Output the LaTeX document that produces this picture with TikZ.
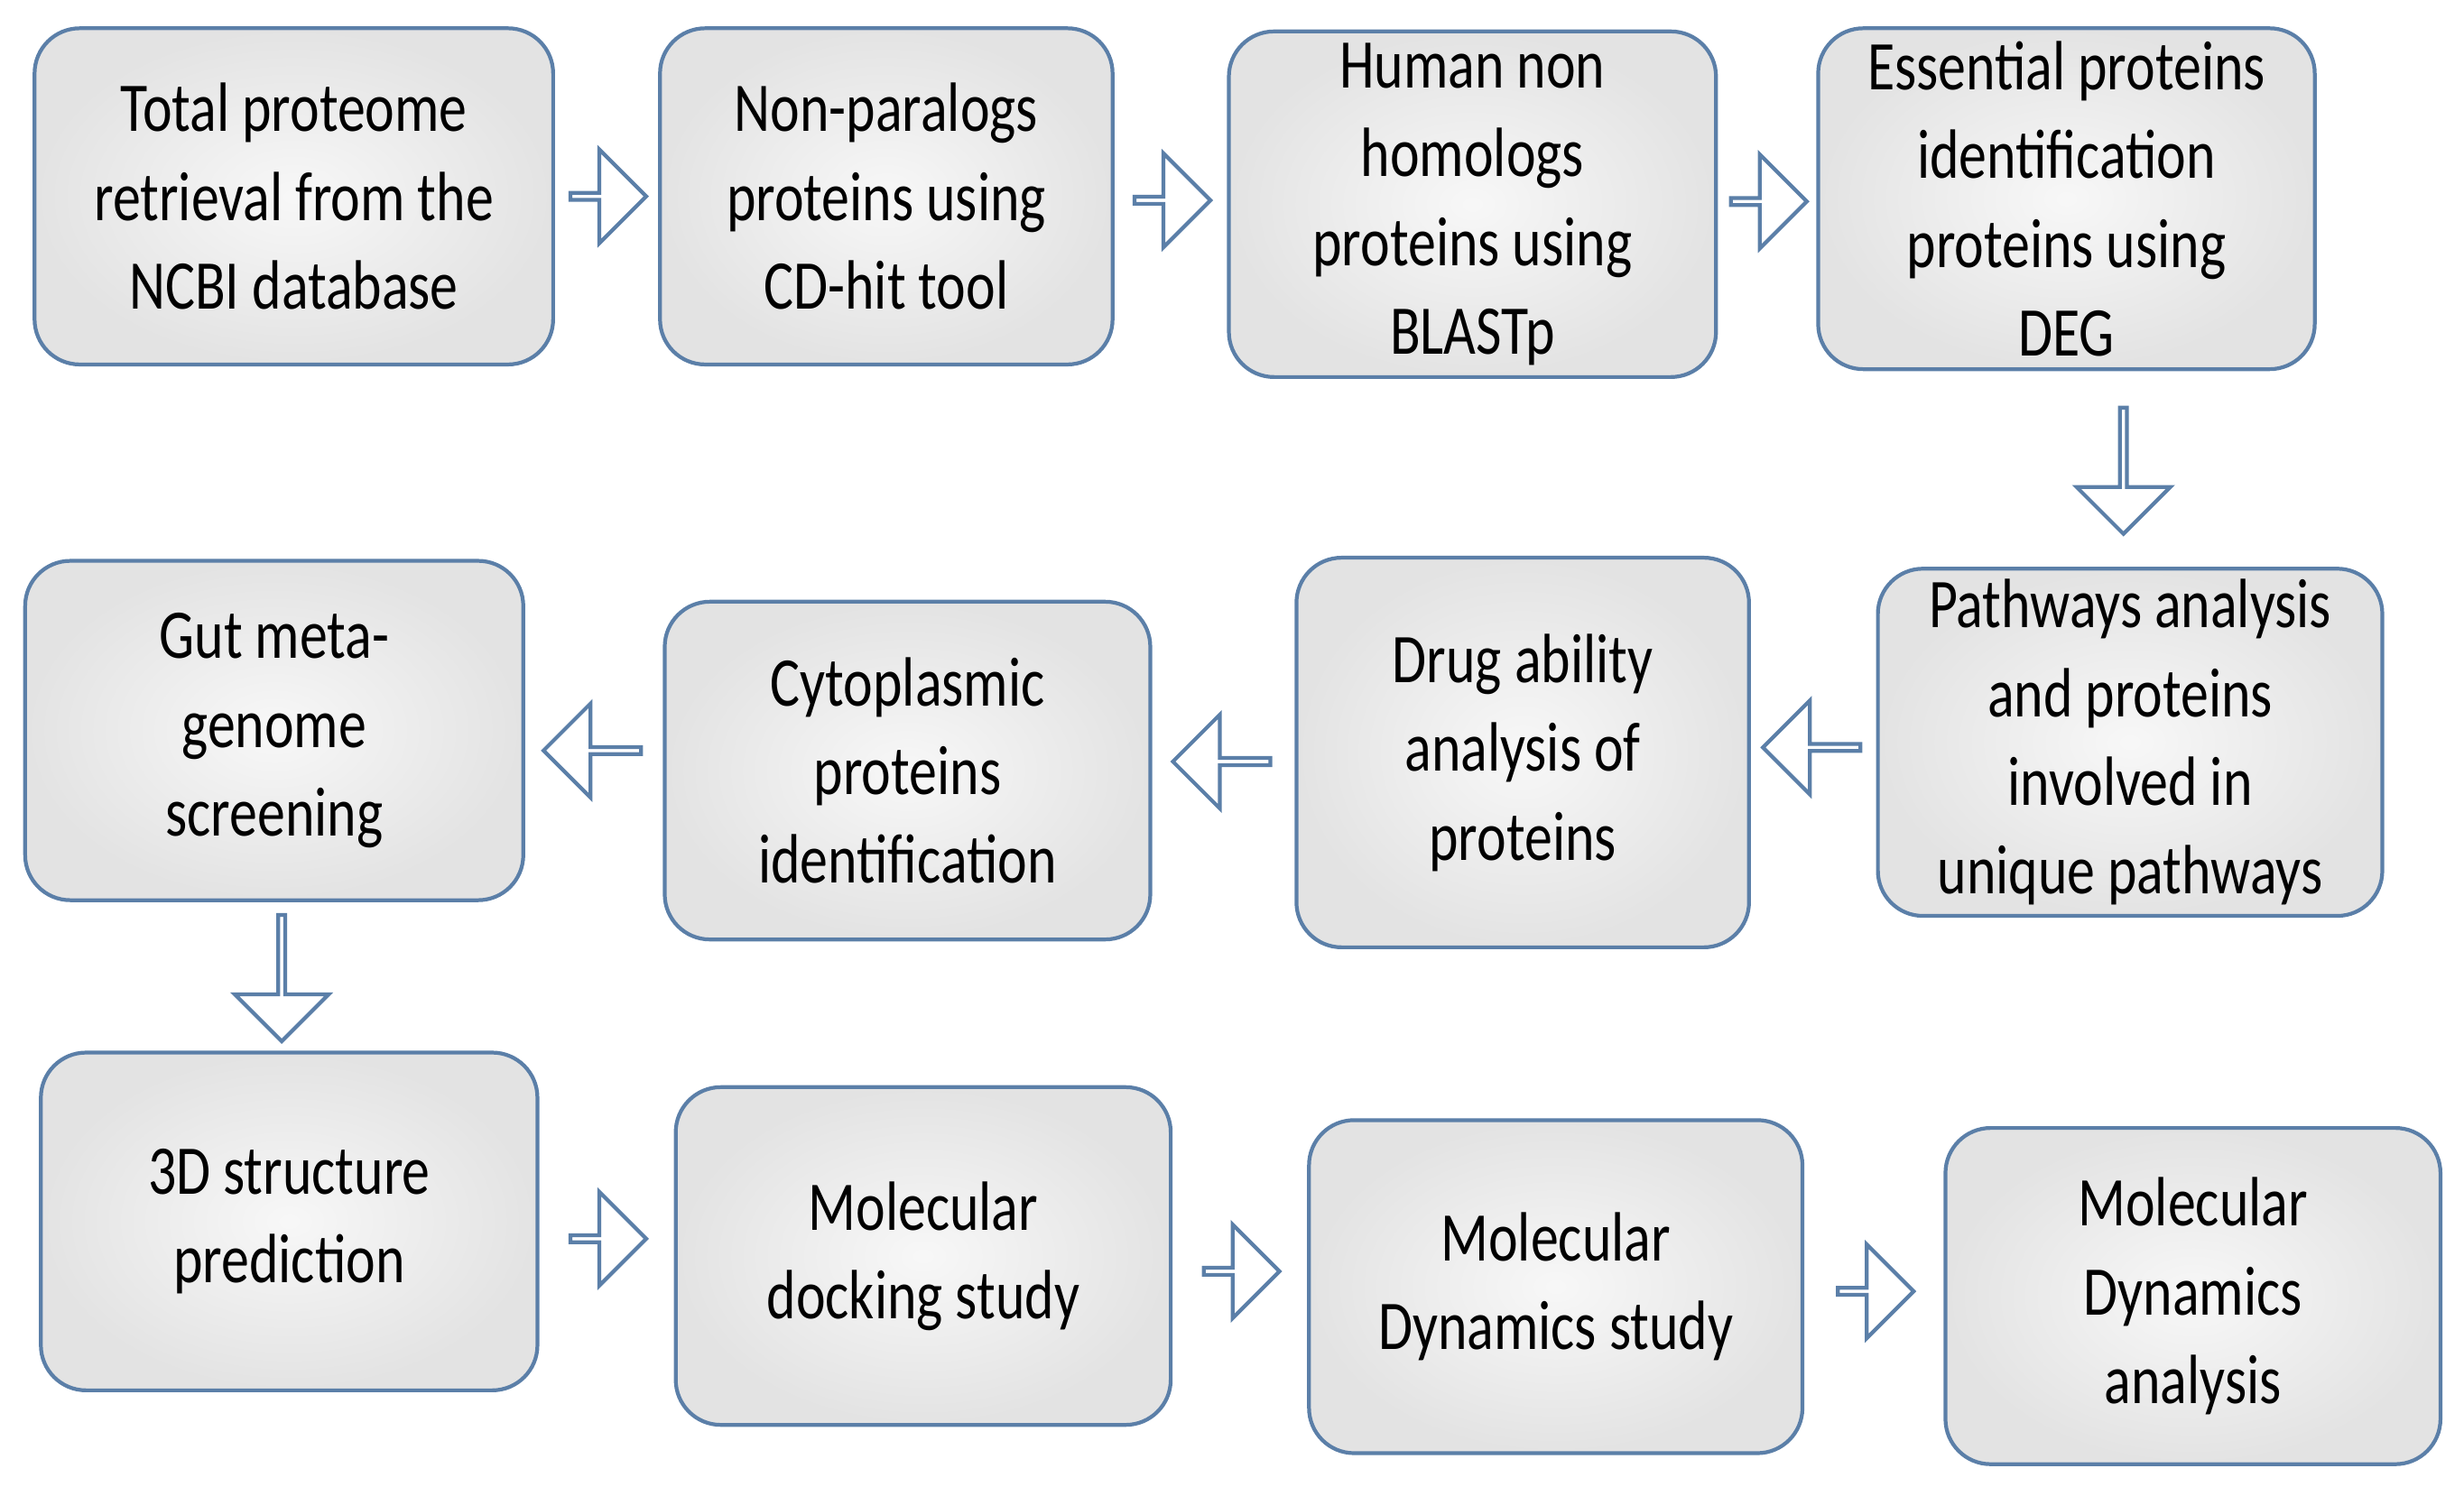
\documentclass[tikz,border=0pt]{standalone}
\usepackage{fontspec}
\setmainfont{Carlito}[FakeStretch=0.8]
\usetikzlibrary{shapes.arrows,calc}
\begin{document}
\begin{tikzpicture}[x=0.01741cm,y=-0.01741cm,
  box/.style={draw=bordc,line width=1.2pt,rounded corners=0.5cm,inner color=gray!6,outer color=gray!22,align=center,
     font=\fontsize{22pt}{28pt}\selectfont},
  arr/.style={single arrow,draw=bordc,fill=white,line width=1.2pt,minimum width=1.04cm,single arrow head extend=0.26cm,inner sep=0pt}]
\definecolor{bordc}{HTML}{5B7FA8}
\useasboundingbox (0,0) rectangle (1568,946);
\newcommand\mybox[6]{\node[box,minimum width=(#4-#2)*0.01741cm,minimum height=(#5-#3)*0.01741cm] (#1) at ({(#2+#4)/2},{(#3+#5)/2}) {#6};}
\mybox{b1}{22}{18}{352}{232}{Total proteome\\retrieval from the\\NCBI database}
\mybox{b2}{420}{18}{708}{232}{Non-paralogs\\proteins using\\CD-hit tool}
\mybox{b3}{782}{20}{1092}{240}{Human non\\homologs\\proteins using\\BLASTp}
\mybox{b4}{1157}{18}{1473}{235}{Essential proteins\\identification\\proteins using\\DEG}
\mybox{b5}{1195}{365}{1516}{580}{Pathways analysis\\and proteins\\involved in\\unique pathways}
\mybox{b6}{825}{355}{1113}{603}{Drug ability\\analysis of\\proteins}
\mybox{b7}{423}{383}{732}{598}{Cytoplasmic\\proteins\\identification}
\mybox{b8}{16}{357}{333}{573}{Gut meta-\\genome\\screening}
\mybox{b9}{26}{670}{342}{885}{3D structure\\prediction}
\mybox{b10}{430}{692}{745}{907}{Molecular\\docking study}
\mybox{b11}{833}{713}{1147}{925}{Molecular\\Dynamics study}
\mybox{b12}{1238}{718}{1553}{932}{Molecular\\Dynamics\\analysis}
\foreach \a/\b in {b1/b2,b2/b3,b3/b4,b9/b10,b10/b11,b11/b12}
  \node[arr,minimum height=0.84cm] (r\a) at ($(\a.east)!0.5!(\b.west)$) {};
\foreach \a/\b in {b5/b6,b6/b7,b7/b8}
  \node[arr,minimum height=1.08cm,shape border rotate=180] (l\a) at ($(\a.west)!0.5!(\b.east)$) {};
\node[arr,minimum height=1.4cm,shape border rotate=270] (d1) at ($(b4.south)!0.5!(b5.north)+(16,0)$) {};
\node[arr,minimum height=1.4cm,shape border rotate=270] (d2) at ($(b8.south)!0.5!(b9.north)$) {};
\end{tikzpicture}
\end{document}
